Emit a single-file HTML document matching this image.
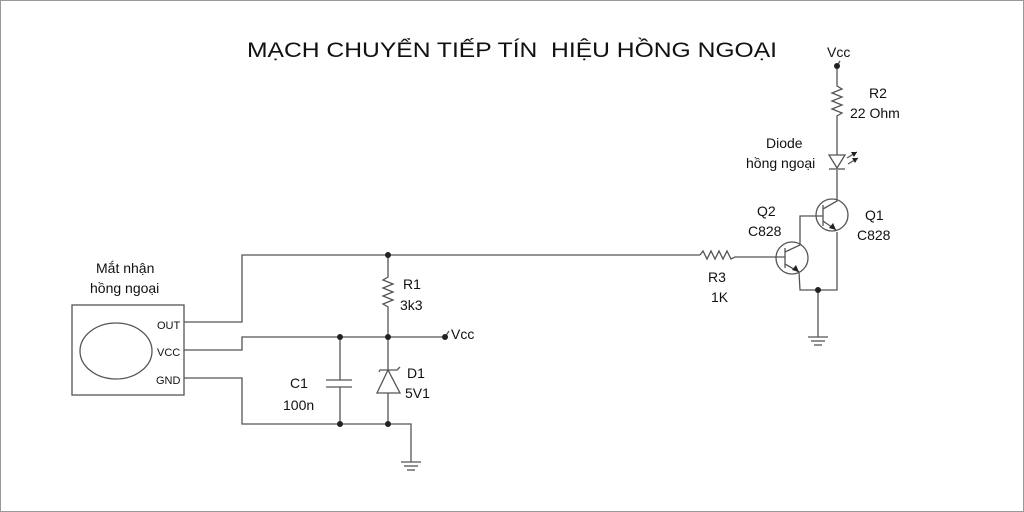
<!DOCTYPE html>
<html><head><meta charset="utf-8"><style>
html,body{margin:0;padding:0;background:#fff}
svg{display:block}
text{font-family:"Liberation Sans",sans-serif;fill:#111}
</style></head><body>
<svg width="1024" height="512" viewBox="0 0 1024 512" xmlns="http://www.w3.org/2000/svg">
<rect x="0.5" y="0.5" width="1023" height="511" fill="#fff" stroke="#999"/>
<text x="247" y="57" font-size="21" textLength="530" lengthAdjust="spacingAndGlyphs">MẠCH CHUYỂN TIẾP TÍN&#160; HIỆU HỒNG NGOẠI</text>
<g fill="none" stroke="#555" stroke-width="1.3">
<rect x="72" y="305" width="112" height="90"/>
<ellipse cx="116" cy="351" rx="36" ry="28"/>
<polyline points="184,322 242,322 242,255 700,255"/>
<polyline points="184,350 242,350 242,337 445,337"/>
<polyline points="184,378 242,378 242,424 411,424 411,462"/>
<polyline points="388,255 388,277 383,280 393,284 383,288 393,292 383,296 393,300 383,304 388,307 388,337"/>
<line x1="340" y1="337" x2="340" y2="380"/><line x1="326" y1="380" x2="352" y2="380"/>
<line x1="326" y1="387" x2="352" y2="387"/><line x1="340" y1="387" x2="340" y2="424"/>
<line x1="388" y1="337" x2="388" y2="370"/>
<polyline points="379,372 380,370 397,370 400,367"/>
<polygon points="388,370 377,393 400,393"/>
<line x1="388" y1="393" x2="388" y2="424"/>
<line x1="401" y1="462" x2="421" y2="462"/><line x1="404" y1="466" x2="418" y2="466"/><line x1="407" y1="470" x2="415" y2="470"/>
<line x1="818" y1="290" x2="818" y2="337"/>
<line x1="808" y1="337" x2="828" y2="337"/><line x1="811" y1="341" x2="825" y2="341"/><line x1="814" y1="345" x2="822" y2="345"/>
<polyline points="700,255 703,251 707,259 711,251 715,259 719,251 723,259 727,251 731,259 735,257 785,257"/>
<circle cx="792" cy="258" r="16"/>
<line x1="785" y1="248" x2="785" y2="268"/>
<polyline points="785,252 800,245 800,216 823,216"/>
<polyline points="785,264 799,272 800,290 837,290 837,232"/>
<circle cx="832" cy="215" r="16"/>
<line x1="823" y1="205" x2="823" y2="226"/>
<polyline points="823,209 837,201 837,170"/>
<polyline points="823,221 836,230"/>
<polyline points="837,66 837,86 842,89 832,93 842,97 832,101 842,105 832,109 842,113 837,116 837,155"/>
<polygon points="829,155 845,155 837,168"/>
<line x1="829" y1="169" x2="845" y2="169"/>
<line x1="847" y1="158" x2="857" y2="152"/><line x1="848" y1="164" x2="858" y2="158"/>
<line x1="445" y1="337" x2="449" y2="331"/>
<line x1="837" y1="66" x2="840" y2="61"/>
</g>
<g fill="#222">
<polygon points="799,272 792,270 796,265"/>
<polygon points="836,230 829,228 833,223"/>
<polygon points="857,152 851,152 854,157"/>
<polygon points="858,158 852,158 855,163"/>
<circle cx="388" cy="255" r="3"/><circle cx="340" cy="337" r="3"/><circle cx="388" cy="337" r="3"/>
<circle cx="445" cy="337" r="3"/><circle cx="340" cy="424" r="3"/><circle cx="388" cy="424" r="3"/>
<circle cx="818" cy="290" r="3"/><circle cx="837" cy="66" r="3"/>
</g>
<g font-size="11"><text x="157" y="329">OUT</text><text x="157" y="356">VCC</text><text x="156" y="384">GND</text></g>
<g font-size="14">
<text x="96" y="273">Mắt nhận</text><text x="90" y="293">hồng ngoại</text>
<text x="403" y="289">R1</text><text x="400" y="310">3k3</text>
<text x="451" y="339">Vcc</text>
<text x="290" y="388">C1</text><text x="283" y="410">100n</text>
<text x="407" y="378">D1</text><text x="405" y="398">5V1</text>
<text x="708" y="282">R3</text><text x="711" y="302">1K</text>
<text x="757" y="216">Q2</text><text x="748" y="236">C828</text>
<text x="865" y="220">Q1</text><text x="857" y="240">C828</text>
<text x="766" y="148">Diode</text><text x="746" y="168">hồng ngoại</text>
<text x="869" y="98">R2</text><text x="850" y="118">22 Ohm</text>
<text x="827" y="57">Vcc</text>
</g>
</svg>
</body></html>
